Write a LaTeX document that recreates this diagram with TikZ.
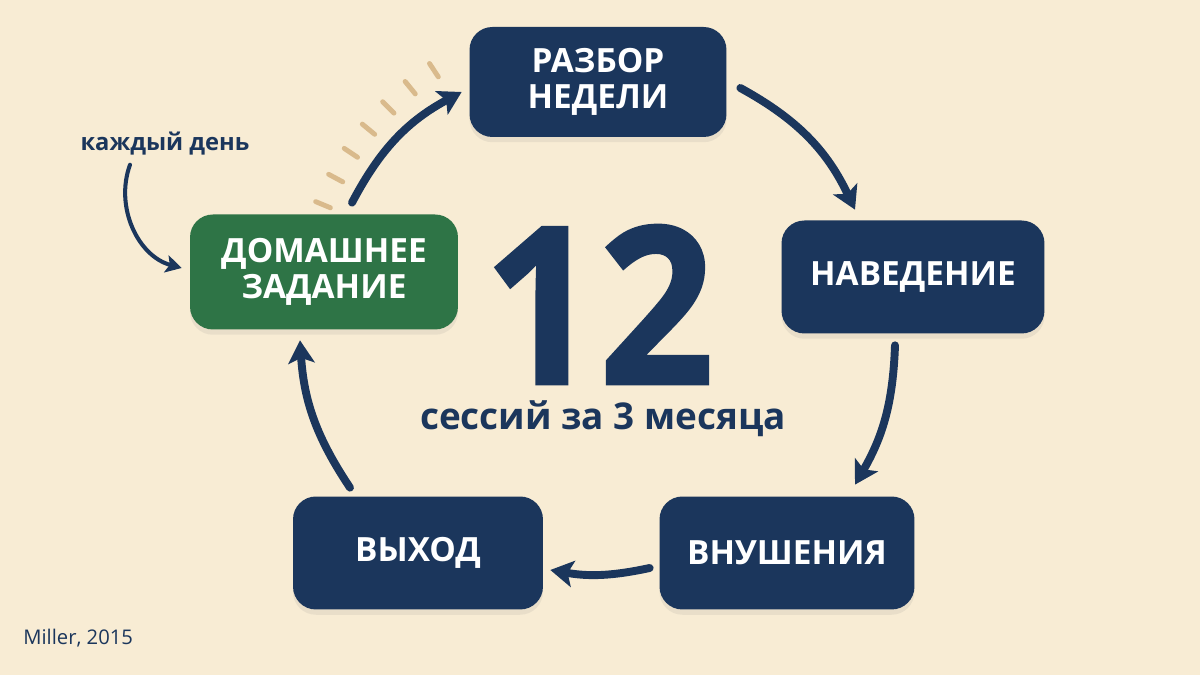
\documentclass[tikz,border=0pt]{standalone}
\usepackage{fontspec}
\setmainfont{Open Sans}
\newfontfamily\bignum[FakeBold=1.2]{Open Sans}
\usetikzlibrary{arrows.meta,shadows,calc}
\definecolor{navy}{HTML}{1B365C}
\definecolor{hwgreen}{HTML}{2E7446}
\definecolor{cream}{HTML}{F8ECD4}
\definecolor{tan}{HTML}{D9BA8C}

\begin{document}
\begin{tikzpicture}[x=0.02cm,y=0.02cm]
\tikzset{stage/.style = {shape=rectangle, rounded corners=13pt, fill=navy, text=white, align=center,
  font=\fontsize{19}{20.5}\selectfont\bfseries, minimum width=5.2cm, minimum height=2.26cm,
  drop shadow={shadow xshift=0pt, shadow yshift=-3pt, opacity=0.12}}}
\tikzset{cyc/.style = {draw=navy, line width=4.5pt, line cap=round, -{Stealth[length=13pt,width=15pt,inset=3pt]}}}
\tikzset{tick/.style = {draw=tan, line width=2.8pt, line cap=round}}
% background and frame
\fill[cream] (0,0) rectangle (1200,675);
\useasboundingbox (0,0) rectangle (1200,675);
% the five stages
\node[stage, minimum width=5.14cm, minimum height=2.2cm](razbor) at (598,593) {РАЗБОР\\НЕДЕЛИ};
\node[stage, minimum width=5.26cm](naved) at (913,398) {НАВЕДЕНИЕ};
\node[stage, minimum width=5.1cm](vnush) at (787,122) {ВНУШЕНИЯ};
\node[stage, minimum width=5.0cm](vyhod) at (418,122) {ВЫХОД};
\node[stage, fill=hwgreen, minimum width=5.36cm, minimum height=2.3cm](dom) at (324,403) {ДОМАШНЕЕ\\ЗАДАНИЕ};
% centre figure
\node[text=navy, inner sep=0pt, text depth=0pt, anchor=base, font=\bignum\fontsize{125}{125}\selectfont\bfseries](num) at (599,291) {\scalebox{0.92}[1]{12}};
\node[text=navy, inner sep=1pt, font=\fontsize{21}{23}\selectfont\bfseries](sub) at (603,256) {сессий за 3 месяца};
% cycle arrows
\draw[cyc] ([shift={(28,11.5)}]dom.north) to[bend left=17] ([shift={(-7.5,-10)}]razbor.west);
\draw[cyc] ([shift={(13.5,-6)}]razbor.east) to[bend left=18] ([shift={(-58,10.5)}]naved.north);
\draw[cyc] ([shift={(-18,-11.5)}]naved.south) to[bend left=14] ([shift={(68,11.5)}]vnush.north);
\draw[cyc] ([shift={(-9.5,-15)}]vnush.west) to[bend left=11] ([shift={(7,-17)}]vyhod.east);
\draw[cyc] ([shift={(-68,8.5)}]vyhod.north) to[bend left=15] ([shift={(-24,-10.5)}]dom.south);
% motion ticks
\coordinate (c) at (600,355);
\foreach \i in {0,...,6}
  \draw[tick] ($(c)+(157.4-5.63*\i:292)$) -- ($(c)+(157.4-5.63*\i:308)$);
% daily note
\node[text=navy, font=\fontsize{13.5}{15}\selectfont\bfseries](kd) at (165,531) {каждый день};
\draw[draw=navy, line width=2.3pt, line cap=round, -{Stealth[length=9pt,width=10pt,inset=2pt]}]
  ([shift={(-35,-3)}]kd.south) to[out=250,in=165] ([shift={(-8,4)}]dom.west);
% source
\node[anchor=west, inner sep=0pt, text=navy, font=\fontsize{11.5}{13}\selectfont](src) at (23,37) {Miller, 2015};
\end{tikzpicture}
\end{document}
